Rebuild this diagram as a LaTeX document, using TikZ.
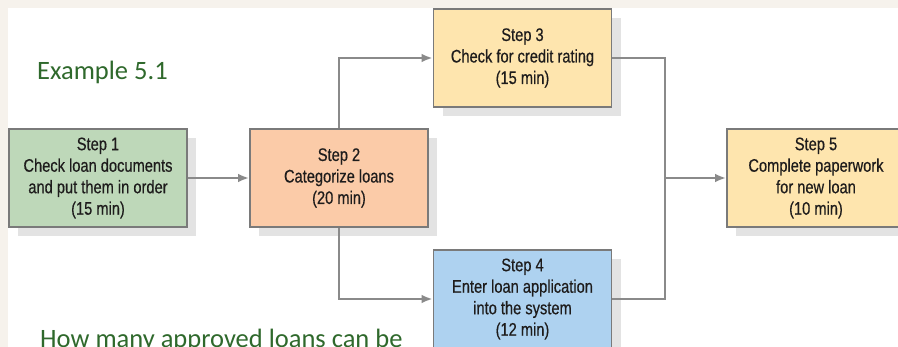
\documentclass[tikz,border=0pt]{standalone}
\usepackage{fontspec}
\usetikzlibrary{arrows.meta,shadows}
\newfontfamily\narrowfont[FakeStretch=0.805,FakeBold=0.5]{Liberation Sans}
\newfontfamily\calibrifont{Carlito}
\definecolor{bgbeige}{HTML}{F6F2EC}
\definecolor{greenfill}{HTML}{BED8B9}
\definecolor{peachfill}{HTML}{FBCBA8}
\definecolor{yellowfill}{HTML}{FEE5AE}
\definecolor{bluefill}{HTML}{AED2F0}
\definecolor{boxborder}{HTML}{7A7A7A}
\definecolor{linkgray}{HTML}{8A8A8A}
\definecolor{titlegreen}{HTML}{2F692C}
\definecolor{boxtext}{HTML}{1E1C1C}
\tikzset{
  stepbox/.style={draw=boxborder, line width=1.6pt, minimum width=178pt, minimum height=98pt,
    inner sep=0pt, align=center, text=boxtext,
    font=\narrowfont\fontsize{18.2pt}{21.5pt}\selectfont,
    drop shadow={shadow xshift=9pt, shadow yshift=-9pt, fill=black!11, opacity=1}},
  link/.style={draw=linkgray, line width=2.2pt, -{Latex[length=11pt,width=8.5pt]}},
  plainlink/.style={draw=linkgray, line width=2.2pt},
  titletext/.style={text=titlegreen, font=\calibrifont\fontsize{26.5pt}{30pt}\selectfont, inner sep=0pt, anchor=base west}
}
\begin{document}
\begin{tikzpicture}[x=1pt,y=-1pt]
\useasboundingbox (0,0) rectangle (898,347);
\clip (0,0) rectangle (898,347);
\fill[bgbeige] (0,0) rectangle (898,347);
\fill[white] (8,8) rectangle (910,360);
\node[titletext] (ex) at (37,80) {Example 5.1};
\node[titletext] (q) at (40,348) {How many approved loans can be};
\node[stepbox, fill=greenfill] (s1) at (98,178) {Step 1\\Check loan documents\\and put them in order\\(15 min)};
\node[stepbox, fill=peachfill] (s2) at (339,178) {Step 2\\Categorize loans\\(20 min)};
\node[stepbox, fill=yellowfill] (s3) at (522.5,58) {Step 3\\Check for credit rating\\(15 min)};
\node[stepbox, fill=bluefill] (s4) at (522.5,299) {Step 4\\Enter loan application\\into the system\\(12 min)};
\node[stepbox, fill=yellowfill] (s5) at (816,178) {Step 5\\Complete paperwork\\for new loan\\(10 min)};
\coordinate (m) at (665,178);
\draw[link] (s1.east) -- (s2.west);
\draw[link] (s2.north) |- (s3.west);
\draw[link] (s2.south) |- (s4.west);
\draw[plainlink] (s3.east) -| (m);
\draw[plainlink] (s4.east) -| (m);
\draw[link] (m) -- (s5.west);
\end{tikzpicture}
\end{document}
